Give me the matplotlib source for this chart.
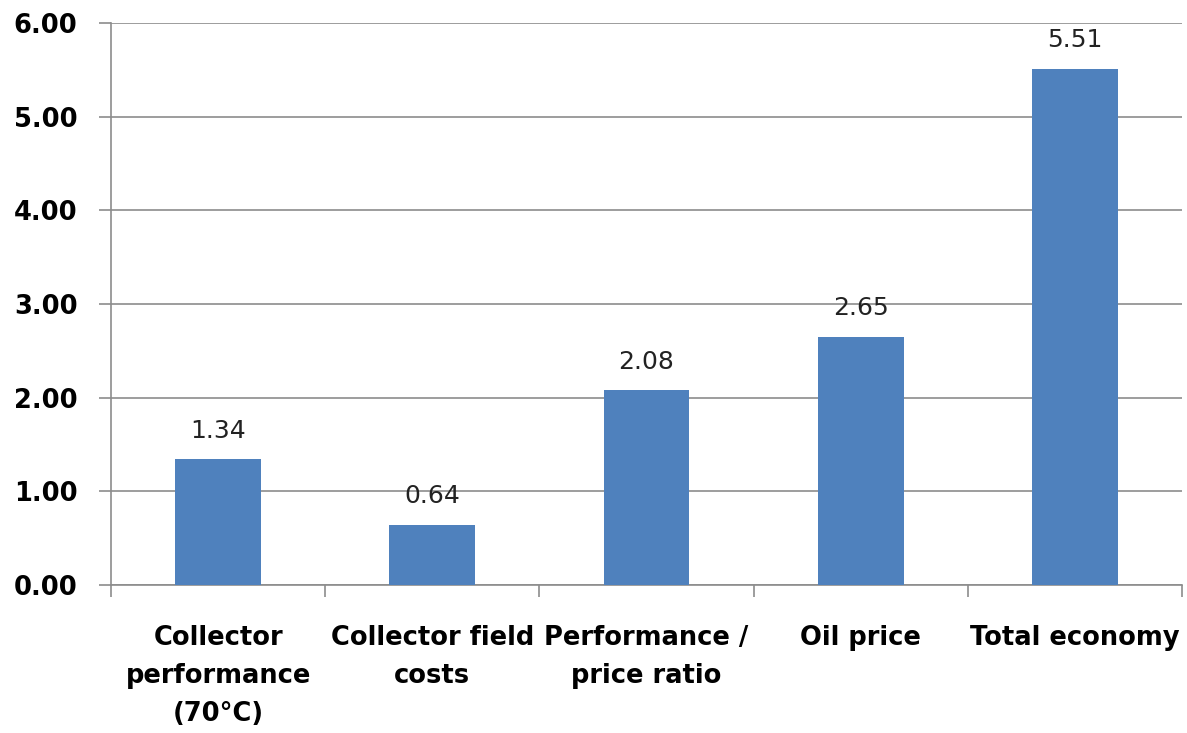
import matplotlib
matplotlib.use("Agg")
import matplotlib.pyplot as plt
import numpy as np

categories = ["Collector\nperformance\n(70°C)", "Collector field\ncosts", "Performance /\nprice ratio", "Oil price", "Total economy"]
values = [1.34, 0.64, 2.08, 2.65, 5.51]
yticks = [0, 1, 2, 3, 4, 5, 6]

plt.rcParams['font.family'] = ['DejaVu Sans']

fig = plt.figure(figsize=(11.87, 7.33), dpi=100)
ax = fig.add_axes([111/1187, 1-585/733, 1071/1187, 562/733])

x = np.arange(len(values))
bars = ax.bar(x, values, width=0.40, color="#4F81BD", zorder=3)
for xi, v in zip(x, values):
    ax.annotate(f"{v:.2f}", (xi, v), xytext=(0, 12), textcoords="offset points",
                ha="center", va="bottom", fontsize=18, color="#222222")

ax.set_xlim(-0.5, len(values) - 0.5)
ax.set_ylim(0, 6)
ax.set_yticks(yticks)
ax.set_yticklabels([f"{t:.2f}" for t in yticks], fontsize=18.5, fontweight="bold")
ax.yaxis.grid(True, color="#8c8c8c", linewidth=1.2, zorder=0)
ax.set_axisbelow(True)

ax.set_xticks(np.arange(len(values) + 1) - 0.5)
ax.set_xticklabels([])
ax.set_xticks(x, minor=True)
ax.set_xticklabels(categories, minor=True, fontsize=18.5, fontweight="bold", linespacing=1.62, va="top")
ax.tick_params(axis="x", which="minor", length=0, pad=28.5)
ax.tick_params(axis="x", which="major", length=8.6, color="#8c8c8c", width=1.2)
ax.tick_params(axis="y", length=8.6, color="#8c8c8c", width=1.2, pad=15.5)

for s in ["top", "right"]:
    ax.spines[s].set_visible(False)
for s in ["left", "bottom"]:
    ax.spines[s].set_color("#8c8c8c")
    ax.spines[s].set_linewidth(1.2)

fig.savefig("out.png", dpi=100)
